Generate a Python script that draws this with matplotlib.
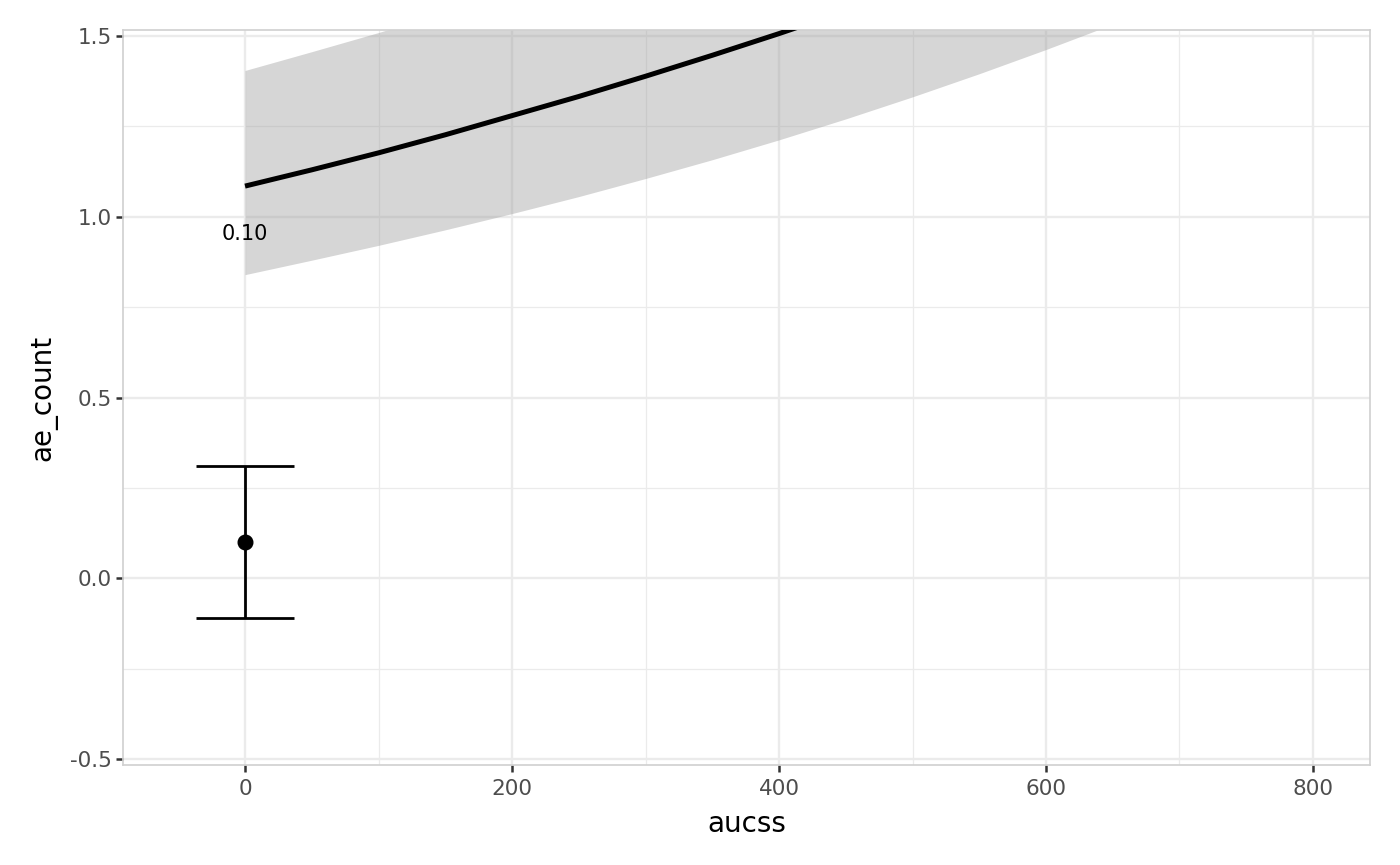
import matplotlib
matplotlib.use("Agg")
import matplotlib.pyplot as plt
from matplotlib.ticker import MultipleLocator

# Fitted curve and ribbon
aucss = [0, 50, 100, 150, 200, 250, 300, 350, 400, 450, 500, 550, 600, 650, 700, 750, 800]
fit_mean = [1.085, 1.130, 1.177, 1.227, 1.280, 1.333, 1.389, 1.447, 1.507, 1.570, 1.636,
            1.704, 1.775, 1.849, 1.927, 2.007, 2.091]
fit_lower = [0.840, 0.880, 0.921, 0.964, 1.009, 1.056, 1.106, 1.158, 1.213, 1.271, 1.332,
             1.396, 1.463, 1.533, 1.606, 1.683, 1.763]
fit_upper = [1.405, 1.457, 1.510, 1.566, 1.624, 1.684, 1.746, 1.810, 1.877, 1.946, 2.018,
             2.092, 2.169, 2.249, 2.332, 2.418, 2.507]

# Observed summary point
obs_x = [0]
obs_mean = [0.10]
obs_lo = [-0.11]
obs_hi = [0.31]
obs_label = ["0.10"]
label_y = [0.953]

xticks = [0, 200, 400, 600, 800]
yticks = [-0.5, 0.0, 0.5, 1.0, 1.5]
ytick_labels = ["-0.5", "0.0", "0.5", "1.0", "1.5"]

fig = plt.figure(figsize=(14, 8.65), dpi=100)
ax = fig.add_axes([123 / 1400, 100 / 865, 1247 / 1400, 735 / 865])

ax.set_xlim(-91.4, 842.7)
ax.set_ylim(-0.517, 1.517)

# grid
ax.xaxis.set_minor_locator(MultipleLocator(100))
ax.yaxis.set_minor_locator(MultipleLocator(0.25))
ax.set_xticks(xticks)
ax.set_xticklabels([str(v) for v in xticks])
ax.set_yticks(yticks)
ax.set_yticklabels(ytick_labels)
ax.grid(which="major", color="#EBEBEB", linewidth=1.7, zorder=0)
ax.grid(which="minor", color="#EBEBEB", linewidth=0.9, zorder=0)
ax.set_axisbelow(True)

ax.fill_between(aucss, fit_lower, fit_upper, color="#999999", alpha=0.4, linewidth=0, zorder=2)
ax.plot(aucss, fit_mean, color="black", linewidth=3.6, zorder=3, solid_capstyle="butt")

ax.errorbar(obs_x, obs_mean, yerr=[[m - l for m, l in zip(obs_mean, obs_lo)],
                                   [h - m for m, h in zip(obs_mean, obs_hi)]],
            fmt="o", color="black", markersize=10.5, elinewidth=2.0, capsize=35,
            capthick=2.0, zorder=4)
for x, y, t in zip(obs_x, label_y, obs_label):
    ax.text(x, y, t, ha="center", va="center", fontsize=15, color="black", zorder=5)

for s in ax.spines.values():
    s.set_color("#D0D0D0")
    s.set_linewidth(1.2)

ax.tick_params(which="major", length=5, width=1.8, color="#333333",
               labelsize=15.5, labelcolor="#4D4D4D")
ax.tick_params(axis="x", which="major", pad=5)
ax.tick_params(axis="y", which="major", pad=3)
ax.tick_params(which="minor", length=0)

ax.set_xlabel("aucss", fontsize=20, color="black", labelpad=8)
ax.set_ylabel("ae_count", fontsize=20, color="black", labelpad=9)

fig.savefig("out.png", dpi=100, facecolor="white")
